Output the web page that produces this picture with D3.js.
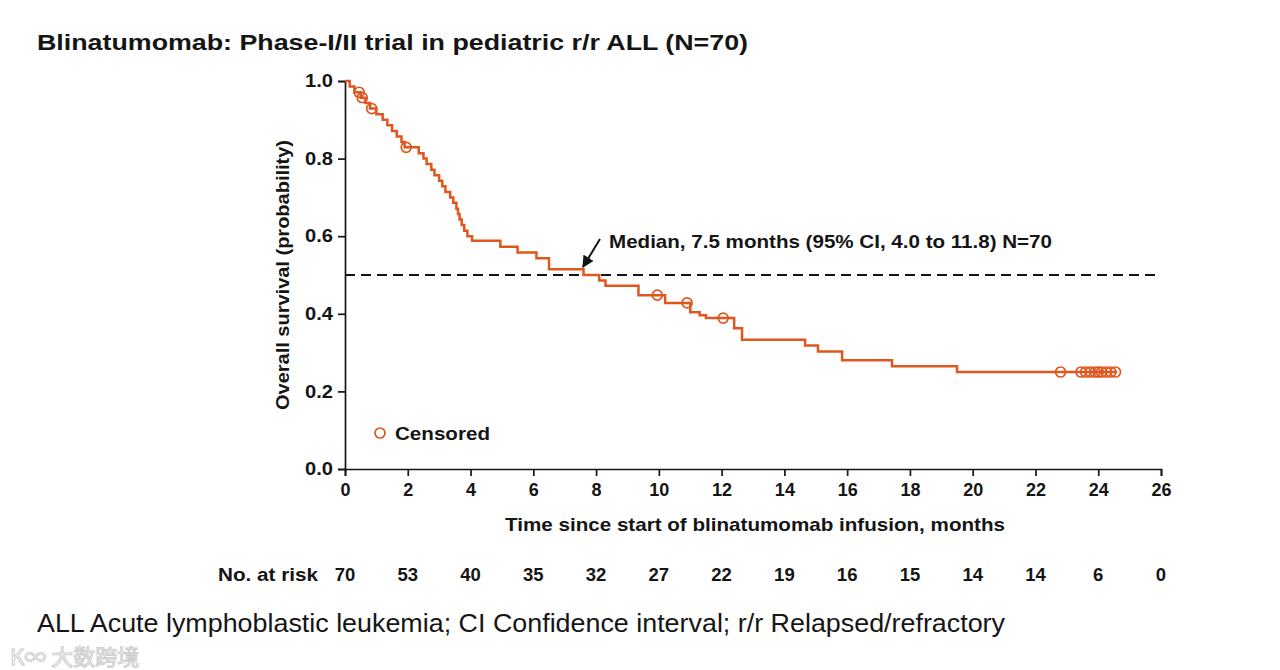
<!DOCTYPE html>
<html><head><meta charset="utf-8">
<script src="https://cdn.jsdelivr.net/npm/d3@7"></script>
<style>
body{margin:0;background:#fff;}
svg{display:block;font-family:"Liberation Sans",Arial,sans-serif;}
</style></head>
<body><svg id="c" width="1280" height="670"></svg>
<script>
// ---- data ----
const stepTimes = [0.15,0.3,0.5,0.65,0.8,1.0,1.2,1.35,1.5,1.65,1.8,1.9,2.35,2.5,2.6,2.75,2.85,3.0,3.1,3.2,3.35,3.45,3.55,3.6,3.65,3.72,3.8,3.9,4.05,
  4.95,5.5,6.1,6.5,7.6,8.1,8.3,9.35,10.2,11.0,11.3,11.5,12.4,12.65,14.66,15.07,15.84,17.43,19.5];
const stepSurv  = [0.986,0.971,0.957,0.943,0.929,0.914,0.900,0.886,0.871,0.857,0.843,0.829,0.814,0.800,0.786,0.771,0.757,0.743,0.729,0.714,0.700,0.686,0.671,0.657,0.643,0.629,0.614,0.600,0.588,
  0.573,0.558,0.543,0.515,0.500,0.486,0.472,0.448,0.428,0.404,0.396,0.389,0.363,0.333,0.318,0.303,0.280,0.265,0.250];
const censorTimes = [0.45,0.55,0.85,1.95,9.95,10.9,12.05,22.8,23.45,23.6,23.75,23.9,24.0,24.1,24.25,24.4,24.55];
const endTime = 24.6;
const xTicks = [0,2,4,6,8,10,12,14,16,18,20,22,24,26];
const yTicks = [0.0,0.2,0.4,0.6,0.8,1.0];
const atRisk = [70,53,40,35,32,27,22,19,16,15,14,14,6,0];
const medianValue = 0.5;
const texts = {
  title: "Blinatumomab: Phase-I/II trial in pediatric r/r ALL (N=70)",
  yLabel: "Overall survival (probability)",
  xLabel: "Time since start of blinatumomab infusion, months",
  median: "Median, 7.5 months (95% CI, 4.0 to 11.8) N=70",
  legend: "Censored",
  atRiskLabel: "No. at risk",
  footer: "ALL Acute lymphoblastic leukemia; CI Confidence interval; r/r Relapsed/refractory"
};

// ---- chart ----
const svg = d3.select("#c");
const color = "#e0561f";
const ink = "#151515";
const x = d3.scaleLinear().domain([0,26]).range([345,1161]);
const y = d3.scaleLinear().domain([0,1]).range([469,81]);
function fit(sel, len){ return sel.attr("textLength",len).attr("lengthAdjust","spacingAndGlyphs"); }

fit(svg.append("text").attr("x",37).attr("y",50).attr("font-size",22.5).attr("font-weight","bold")
  .attr("fill",ink).text(texts.title), 711);

// axes
const xAxis = svg.append("g").attr("transform","translate(0,469)")
  .call(d3.axisBottom(x).tickValues(xTicks).tickSize(7).tickPadding(5).tickFormat(d3.format("d")));
const yAxis = svg.append("g").attr("transform","translate(345,0)")
  .call(d3.axisLeft(y).tickValues(yTicks).tickSize(7).tickPadding(5).tickFormat(d3.format(".1f")));
[xAxis,yAxis].forEach(a=>{
  a.select(".domain").attr("stroke",ink).attr("stroke-width",1.7);
  a.selectAll(".tick line").attr("stroke",ink).attr("stroke-width",1.7);
  a.selectAll("text").attr("font-size",18).attr("font-weight","bold").attr("fill",ink)
   .attr("font-family","'Liberation Sans',Arial,sans-serif");
});
xAxis.selectAll("text").attr("dy","0.85em");
yAxis.selectAll("text").attr("textLength",28).attr("lengthAdjust","spacingAndGlyphs");

fit(svg.append("text").attr("transform","translate(289,275) rotate(-90)").attr("text-anchor","middle")
  .attr("font-size",18.5).attr("font-weight","bold").attr("fill",ink).text(texts.yLabel), 270);
fit(svg.append("text").attr("x",755).attr("y",531).attr("text-anchor","middle")
  .attr("font-size",19).attr("font-weight","bold").attr("fill",ink).text(texts.xLabel), 500);

// median dashed line
svg.append("line").attr("x1",x(0)).attr("x2",x(26)).attr("y1",y(medianValue)).attr("y2",y(medianValue))
  .attr("stroke",ink).attr("stroke-width",1.9).attr("stroke-dasharray","10,6");

// KM step curve
const pts = [[0,1]];
stepTimes.forEach((t,i)=>pts.push([t,stepSurv[i]]));
pts.push([endTime, stepSurv[stepSurv.length-1]]);
const line = d3.line().x(d=>x(d[0])).y(d=>y(d[1])).curve(d3.curveStepAfter);
svg.append("path").datum(pts).attr("d",line).attr("fill","none").attr("stroke",color).attr("stroke-width",2.5);

function survAt(t){let s=1;stepTimes.forEach((st,i)=>{if(st<=t)s=stepSurv[i];});return s;}
svg.append("g").selectAll("circle").data(censorTimes).join("circle")
  .attr("cx",d=>x(d)).attr("cy",d=>y(survAt(d))).attr("r",5)
  .attr("fill","none").attr("stroke",color).attr("stroke-width",1.7);

// median annotation
fit(svg.append("text").attr("x",609).attr("y",248).attr("font-size",19).attr("font-weight","bold")
  .attr("fill",ink).text(texts.median), 443);
svg.append("defs").append("marker").attr("id","ah").attr("viewBox","0 0 10 10").attr("refX",9).attr("refY",5)
  .attr("markerWidth",6).attr("markerHeight",6).attr("orient","auto")
  .append("path").attr("d","M0,0 L10,5 L0,10 z").attr("fill",ink);
svg.append("line").attr("x1",600).attr("y1",239).attr("x2",583).attr("y2",267)
  .attr("stroke",ink).attr("stroke-width",2).attr("marker-end","url(#ah)");

// legend
svg.append("circle").attr("cx",380).attr("cy",433).attr("r",5).attr("fill","none").attr("stroke",color).attr("stroke-width",1.7);
fit(svg.append("text").attr("x",395).attr("y",440).attr("font-size",19).attr("font-weight","bold").attr("fill",ink).text(texts.legend), 95);

// at risk
fit(svg.append("text").attr("x",218).attr("y",581).attr("font-size",18.5)
  .attr("font-weight","bold").attr("fill",ink).text(texts.atRiskLabel), 100);
svg.append("g").selectAll("text").data(atRisk).join("text")
  .attr("x",(d,i)=>x(xTicks[i])).attr("y",581).attr("text-anchor","middle")
  .attr("font-size",18.5).attr("font-weight","bold").attr("fill",ink).text(d=>d);

// footer
fit(svg.append("text").attr("x",37).attr("y",632).attr("font-size",26.5).attr("fill",ink).text(texts.footer), 968);

// watermark
svg.append("text").attr("x",10).attr("y",665).attr("font-size",22).attr("fill","#ffffff")
  .attr("stroke","#cfcfcf").attr("stroke-width",1.1)
  .attr("font-family","'Noto Sans CJK SC',sans-serif").text("K∞ 大数跨境");
</script></body></html>
